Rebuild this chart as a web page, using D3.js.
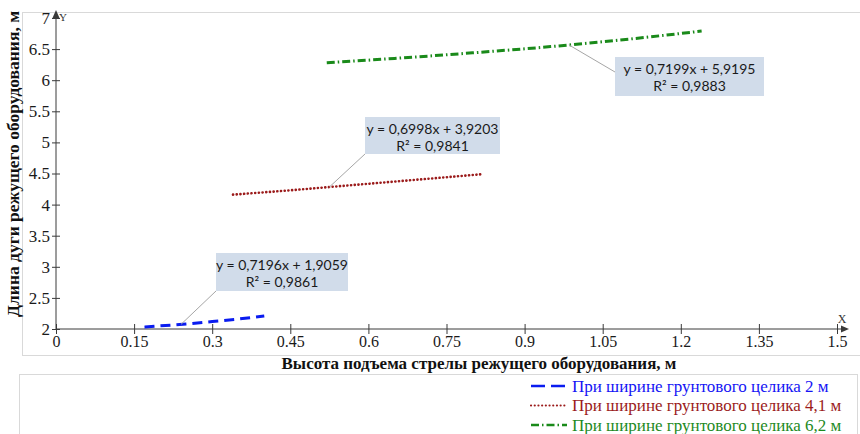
<!DOCTYPE html>
<html>
<head>
<meta charset="utf-8">
<script src="https://cdn.jsdelivr.net/npm/d3@7"></script>
<style>
  html, body { margin: 0; padding: 0; background: #fff; }
  svg { display: block; }
  .serif { font-family: "Liberation Serif", "DejaVu Serif", "Times New Roman", serif; }
  .calib { font-family: Lato, "Open Sans", sans-serif; }
</style>
</head>
<body>
<svg id="chart" width="860" height="434"></svg>
<script>
// Boom lift height (m) vs. arc length of the cutting equipment (m)
const seriesNames = [
  "При ширине грунтового целика 2 м",
  "При ширине грунтового целика 4,1 м",
  "При ширине грунтового целика 6,2 м"
];
const blueX  = [0.17, 0.20, 0.25, 0.30, 0.35, 0.40];
const blueY  = [2.03, 2.05, 2.08, 2.12, 2.16, 2.21];
const redX   = [0.34, 0.45, 0.55, 0.65, 0.75, 0.82];
const redY   = [4.16, 4.23, 4.30, 4.37, 4.44, 4.49];
const greenX = [0.52, 0.65, 0.80, 0.95, 1.10, 1.24];
const greenY = [6.28, 6.35, 6.44, 6.54, 6.66, 6.79];

const trendEquations = ["y = 0,7196x + 1,9059", "y = 0,6998x + 3,9203", "y = 0,7199x + 5,9195"];
const trendR2        = ["R² = 0,9861", "R² = 0,9841", "R² = 0,9883"];
const trendAnchorX   = [0.24, 0.525, 0.985];

const xTicks = [0, 0.15, 0.3, 0.45, 0.6, 0.75, 0.9, 1.05, 1.2, 1.35, 1.5];
const xTickLabels = ["0", "0.15", "0.3", "0.45", "0.6", "0.75", "0.9", "1.05", "1.2", "1.35", "1.5"];
const yTicks = [2, 2.5, 3, 3.5, 4, 4.5, 5, 5.5, 6, 6.5, 7];
const yTickLabels = ["2", "2.5", "3", "3.5", "4", "4.5", "5", "5.5", "6", "6.5", "7"];

const xTitle = "Высота подъема стрелы режущего оборудования, м";
const yTitle = "Длина дуги режущего оборудования, м";

// styling
const colors = ["#0a1cf0", "#9b1b1b", "#1a8a1a"];
const textColors = ["#1414f5", "#9b1b1b", "#1e8a1e"];
const dashes = ["10,6", "0.1,3.6", "8,3,1.5,3"];
const widths = [3, 2.6, 3];
const caps = ["butt", "round", "butt"];

const svg = d3.select("#chart");

// outer frames
svg.append("rect").attr("x", 22.5).attr("y", 12.5).attr("width", 850).attr("height", 343)
  .attr("fill", "none").attr("stroke", "#d9d9d9");
svg.append("rect").attr("x", 19.5).attr("y", 374.5).attr("width", 838).attr("height", 70)
  .attr("fill", "none").attr("stroke", "#d9d9d9");

const x = d3.scaleLinear().domain([0, 1.5]).range([56, 837]);
const y = d3.scaleLinear().domain([2, 7]).range([329, 18]);

const axisColor = "#3a3a3a";

// X axis
const xAxis = svg.append("g").attr("transform", `translate(0,${y(2)})`)
  .call(d3.axisBottom(x).tickValues(xTicks).tickFormat((d, i) => xTickLabels[i])
    .tickSizeInner(5).tickSizeOuter(0).tickPadding(2));
xAxis.attr("font-family", null).attr("font-size", null).attr("class", "serif");
xAxis.select(".domain").remove();
xAxis.selectAll(".tick line").attr("y1", -5).attr("y2", 5).attr("stroke", axisColor);
xAxis.selectAll("text").style("font-size", "16px").attr("fill", "#1a1a1a");
svg.append("line").attr("x1", x(0)).attr("x2", 845).attr("y1", y(2)).attr("y2", y(2))
  .attr("stroke", axisColor).attr("stroke-width", 1);
svg.append("path").attr("d", `M849,${y(2)} l-8,-3.5 l0,7 z`).attr("fill", axisColor);
svg.append("text").attr("class", "serif").attr("x", 842).attr("y", 323).attr("text-anchor", "middle")
  .style("font-size", "12px").attr("fill", "#333").text("X");

// Y axis
const yAxis = svg.append("g").attr("transform", `translate(${x(0)},0)`)
  .call(d3.axisLeft(y).tickValues(yTicks).tickFormat((d, i) => yTickLabels[i])
    .tickSizeInner(4).tickSizeOuter(0).tickPadding(2));
yAxis.attr("font-family", null).attr("font-size", null).attr("class", "serif");
yAxis.select(".domain").remove();
yAxis.selectAll(".tick line").attr("x1", -4).attr("x2", 4).attr("stroke", axisColor);
yAxis.selectAll("text").style("font-size", "17px").attr("fill", "#1a1a1a");
svg.append("line").attr("x1", x(0)).attr("x2", x(0)).attr("y1", y(2)).attr("y2", 15)
  .attr("stroke", axisColor).attr("stroke-width", 1);
svg.append("path").attr("d", `M${x(0)},10 l-3.5,8 l7,0 z`).attr("fill", axisColor);
svg.append("text").attr("class", "serif").attr("x", 63).attr("y", 21).attr("text-anchor", "middle")
  .style("font-size", "11px").attr("fill", "#333").text("Y");

// axis titles
svg.append("text").attr("class", "serif").attr("x", 479).attr("y", 369).attr("text-anchor", "middle")
  .style("font-size", "17px").style("font-weight", "bold").attr("fill", "#111")
  .text(xTitle);
svg.append("text").attr("class", "serif").attr("transform", "translate(19,164) rotate(-90)")
  .attr("text-anchor", "middle")
  .style("font-size", "17.5px").style("font-weight", "bold").attr("fill", "#111")
  .text(yTitle);

// series
const seriesX = [blueX, redX, greenX];
const seriesY = [blueY, redY, greenY];
const line = d3.line().x(d => x(d[0])).y(d => y(d[1])).curve(d3.curveMonotoneX);

seriesX.forEach((xs, i) => {
  const pts = xs.map((v, j) => [v, seriesY[i][j]]);
  svg.append("path").datum(pts).attr("d", line).attr("fill", "none")
    .attr("stroke", colors[i]).attr("stroke-width", widths[i])
    .attr("stroke-dasharray", dashes[i]).attr("stroke-linecap", caps[i]);
});

// trendline labels with leader lines
const boxes = [
  { left: 216, top: 253, w: 132, h: 38, corner: [216, 291] },
  { left: 365, top: 117, w: 135, h: 37, corner: [365, 154] },
  { left: 615, top: 57,  w: 149, h: 39, corner: [615, 72] }
];
const interp = (xs, ys, v) => d3.scaleLinear().domain(xs).range(ys)(v);

boxes.forEach((b, i) => {
  const ax = trendAnchorX[i];
  const ay = interp(seriesX[i], seriesY[i], ax);
  svg.append("line").attr("x1", x(ax)).attr("y1", y(ay))
    .attr("x2", b.corner[0]).attr("y2", b.corner[1])
    .attr("stroke", "#a6a6a6").attr("stroke-width", 1);
  svg.append("rect").attr("x", b.left).attr("y", b.top).attr("width", b.w).attr("height", b.h)
    .attr("fill", "#d1dcea");
  const cx = b.left + b.w / 2;
  svg.append("text").attr("class", "calib").attr("x", cx).attr("y", b.top + 17).attr("text-anchor", "middle")
    .style("font-size", "14px").attr("fill", "#1a1a1a")
    .text(trendEquations[i]);
  svg.append("text").attr("class", "calib").attr("x", cx).attr("y", b.top + 34).attr("text-anchor", "middle")
    .style("font-size", "14px").attr("fill", "#1a1a1a")
    .text(trendR2[i]);
});

// legend
const legend = svg.append("g");
seriesNames.forEach((name, i) => {
  const ly = 386 + i * 19.5;
  legend.append("line").attr("x1", 531).attr("x2", 567).attr("y1", ly).attr("y2", ly)
    .attr("stroke", colors[i]).attr("stroke-width", widths[i] - 0.5)
    .attr("stroke-dasharray", i === 0 ? "14,6" : dashes[i]).attr("stroke-linecap", caps[i]);
  legend.append("text").attr("class", "serif").attr("x", 572).attr("y", ly + 5.5)
    .style("font-size", "17px").attr("fill", textColors[i])
    .text(name);
});
</script>
</body>
</html>
